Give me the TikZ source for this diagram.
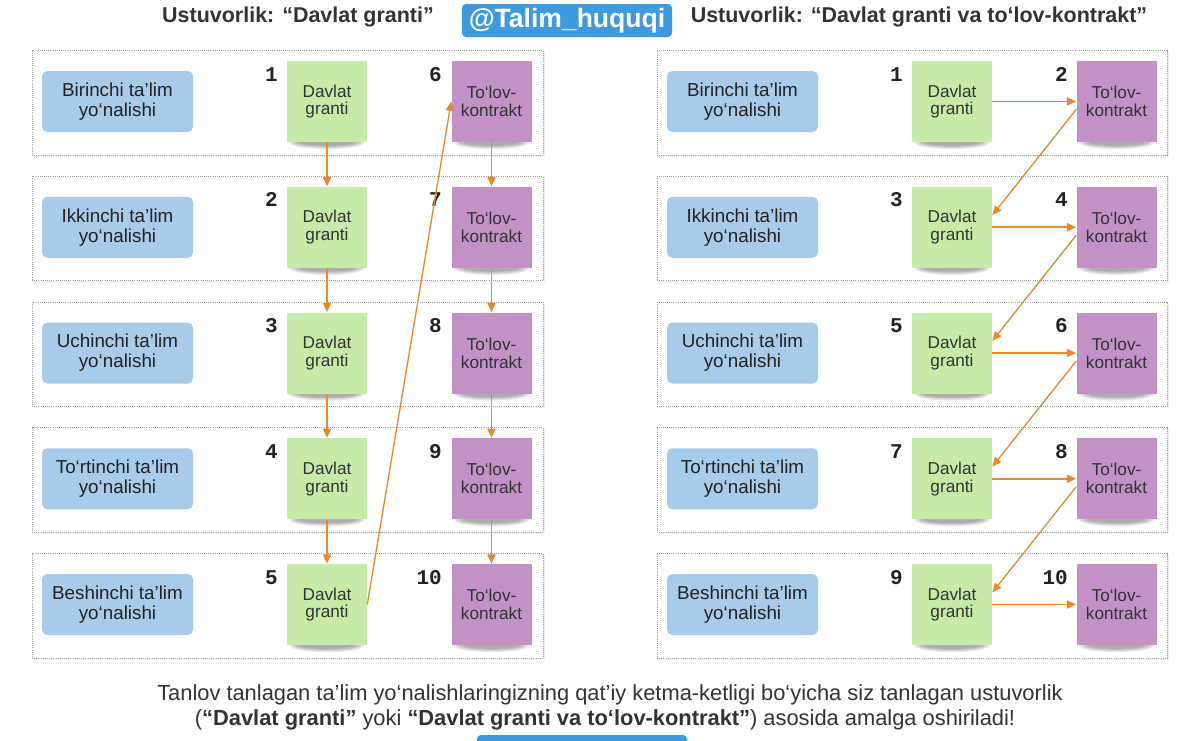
\documentclass[tikz,border=0pt]{standalone}
\usepackage{fontspec}
\setmainfont{Liberation Sans}
\newfontfamily\monofnt{Liberation Mono}
\usetikzlibrary{arrows.meta}
\definecolor{bluebox}{RGB}{168,203,233}
\definecolor{greenbox}{RGB}{197,235,166}
\definecolor{purplebox}{RGB}{193,145,199}
\definecolor{arrowor}{RGB}{232,137,43}
\definecolor{badgeblue}{RGB}{61,154,224}
\definecolor{frameg}{RGB}{160,160,160}
\definecolor{txt}{RGB}{34,34,34}
\tikzset{
 dirbox/.style={fill=bluebox, rounded corners=4pt, minimum width=113.25pt, minimum height=45.75pt, inner sep=0pt, align=center, font=\fontsize{14.1pt}{15pt}\selectfont, text=txt},
 gbox/.style={fill=greenbox, minimum width=60pt, minimum height=60.75pt, inner sep=0pt, align=center, font=\fontsize{12.9pt}{13.4pt}\selectfont, text=black!80},
 pbox/.style={gbox, fill=purplebox},
 numlbl/.style={anchor=base east, font=\monofnt\bfseries\fontsize{15.75pt}{16pt}\selectfont, text=txt, inner sep=0pt},
 rowframe/.style={draw=frameg, densely dotted, line width=0.6pt},
 rowshadow/.style={draw=black!6, line width=1.2pt},
 softshadow/.style={fill=black, opacity=0.09},
 flow/.style={draw=arrowor, line width=1.4pt, -{Triangle[length=7pt,width=6pt]}},
 flowthin/.style={flow, line width=1pt},
 titletext/.style={font=\bfseries\fontsize{16.1pt}{18pt}\selectfont, text=black!80, anchor=base, inner sep=0pt},
 notetext/.style={font=\fontsize{16.4pt}{18.75pt}\selectfont, text=black!80, anchor=base, inner sep=0pt},
}
\newcommand\stickyshadow[2]{%
  \fill[softshadow] (#1,#2) ellipse [x radius=28pt, y radius=5pt];
  \fill[softshadow] (#1,#2) ellipse [x radius=26pt, y radius=4.1pt];
  \fill[softshadow] (#1,#2) ellipse [x radius=24pt, y radius=3.3pt];
  \fill[softshadow] (#1,#2) ellipse [x radius=21pt, y radius=2.5pt];
}
\begin{document}
\begin{tikzpicture}[x=0.75pt,y=-0.75pt]
\useasboundingbox (0,0) rectangle (1200,740);
\fill[white] (0,0) rectangle (1200,740);

% titles and badge
\node[titletext] (tl) at (298,22) {Ustuvorlik: “Davlat granti”};
\node[titletext] (tr) at (919,22) {Ustuvorlik: “Davlat granti va to‘lov-kontrakt”};
\node[fill=badgeblue, rounded corners=3pt, minimum width=157.5pt, minimum height=24.75pt, inner sep=0pt,
      text=white, font=\bfseries\fontsize{19.9pt}{20pt}\selectfont] (badge) at (567,20.5) {@Talim\_huquqi};

% rows
\foreach \i/\nm in {1/Birinchi,2/Ikkinchi,3/Uchinchi,4/To‘rtinchi,5/Beshinchi}{
  \pgfmathsetmacro\yc{101.5+125.75*(\i-1)}
  \pgfmathsetmacro\yb{\yc+41}
  \pgfmathtruncatemacro\lpn{\i+5}
  \pgfmathtruncatemacro\rgn{2*\i-1}
  \pgfmathtruncatemacro\rpn{2*\i}
  \draw[rowshadow] (33,\yc+54.5) -- (544,\yc+54.5) -- (544,\yc-50);
  \draw[rowshadow] (658,\yc+54.5) -- (1168,\yc+54.5) -- (1168,\yc-50);
  \draw[rowframe] (32,\yc-51) rectangle (543,\yc+53.5);
  \draw[rowframe] (657,\yc-51) rectangle (1167,\yc+53.5);
  \stickyshadow{327}{\yb}
  \stickyshadow{491.5}{\yb}
  \stickyshadow{952}{\yb}
  \stickyshadow{1116.5}{\yb}
  \node[dirbox] (la\i) at (117.5,\yc) {\nm{} ta’lim\\yo‘nalishi};
  \node[dirbox] (ra\i) at (742.5,\yc) {\nm{} ta’lim\\yo‘nalishi};
  \node[gbox] (lg\i) at (327,\yc) {Davlat\\granti};
  \node[pbox] (lp\i) at (491.5,\yc) {To‘lov-\\kontrakt};
  \node[gbox] (rg\i) at (952,\yc) {Davlat\\granti};
  \node[pbox] (rp\i) at (1116.5,\yc) {To‘lov-\\kontrakt};
  \node[numlbl] (lgn\i) at (278,\yc-20.5) {\i};
  \node[numlbl] (lpn\i) at (442,\yc-20.5) {\lpn};
  \node[numlbl] (rgn\i) at (903,\yc-20.5) {\rgn};
  \node[numlbl] (rpn\i) at (1068,\yc-20.5) {\rpn};
}

% left panel connectors
\foreach \i/\j in {1/2,2/3,3/4,4/5}{
  \draw[flow] (lg\i.south) -- (lg\j.north);
  \draw[flow] (lp\i.south) -- (lp\j.north);
}
\draw[flowthin] (lg5.east) -- (lp1.west);

% right panel connectors
\foreach \i in {1,...,5}{
  \draw[flow] (rg\i.east) -- (rp\i.west);
}
\foreach \i/\j in {1/2,2/3,3/4,4/5}{
  \draw[flowthin] ([yshift=-6pt]rp\i.west) -- ([yshift=9pt]rg\j.east);
}

% bottom note
\node[notetext] (n1) at (610,700) {Tanlov tanlagan ta’lim yo‘nalishlaringizning qat’iy ketma-ketligi bo‘yicha siz tanlagan ustuvorlik};
\node[notetext] (n2) at (605,725) {(\textbf{“Davlat granti”} yoki \textbf{“Davlat granti va to‘lov-kontrakt”}) asosida amalga oshiriladi!};
\fill[badgeblue, rounded corners=3pt] (477,735) rectangle (687,760);
\end{tikzpicture}
\end{document}
